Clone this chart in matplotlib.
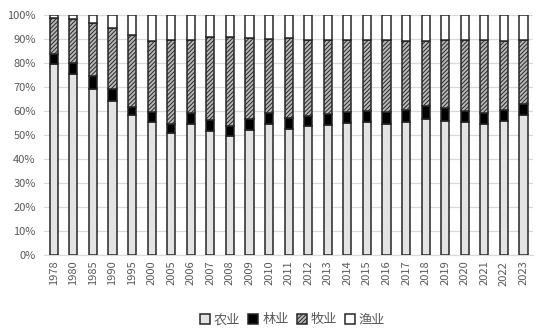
import matplotlib
matplotlib.use("Agg")
import matplotlib.pyplot as plt
import numpy as np

plt.rcParams['font.family'] = ['Noto Sans CJK SC', 'DejaVu Sans']
plt.rcParams['hatch.linewidth'] = 0.7

years = ['1978', '1980', '1985', '1990', '1995', '2000', '2005', '2006', '2007', '2008',
         '2009', '2010', '2011', '2012', '2013', '2014', '2015', '2016', '2017', '2018',
         '2019', '2020', '2021', '2022', '2023']
agri = [79.6, 75.4, 69.0, 64.3, 58.2, 55.3, 50.8, 54.6, 51.8, 49.7, 52.2, 54.7, 52.6,
        53.6, 54.3, 55.0, 55.3, 54.6, 55.4, 56.7, 56.0, 55.4, 54.4, 55.7, 58.2]
forest = [3.9, 4.6, 5.6, 4.9, 3.6, 4.3, 3.9, 4.4, 4.5, 4.2, 4.5, 4.3, 4.6, 4.4, 4.6,
          4.7, 4.7, 4.8, 5.2, 5.4, 5.3, 4.7, 4.8, 4.9, 4.8]
livestock = [15.0, 18.3, 21.9, 25.4, 30.0, 29.6, 35.0, 30.7, 34.4, 36.8, 33.7, 31.1, 33.2,
             31.7, 30.8, 30.0, 29.4, 30.0, 28.4, 26.9, 28.1, 29.3, 30.2, 28.4, 26.4]
fishery = [1.5, 1.7, 3.5, 5.4, 8.2, 10.8, 10.3, 10.3, 9.3, 9.3, 9.6, 9.9, 9.6, 10.3, 10.3,
           10.3, 10.6, 10.6, 11.0, 11.0, 10.6, 10.6, 10.6, 11.0, 10.6]
names = ['农业', '林业', '牧业', '渔业']

data = np.array([agri, forest, livestock, fishery], dtype=float)
data = data / data.sum(axis=0) * 100

fig = plt.figure(figsize=(5.37, 3.30), dpi=100)
ax = fig.add_axes([0.082, 0.227, 0.911, 0.728])

x = np.arange(len(years))
w = 0.42
ec = '#262626'
styles = [dict(color='#e3e3e3', hatch=None),
          dict(color='black', hatch=None),
          dict(color='#b8b8b8', hatch='////////'),
          dict(color='white', hatch=None)]
bottom = np.zeros(len(years))
for vals, nm, st in zip(data, names, styles):
    ax.bar(x, vals, w, bottom=bottom, facecolor=st['color'], edgecolor=ec,
           linewidth=1.1, hatch=st['hatch'], label=nm, zorder=3)
    bottom += vals

ax.set_ylim(0, 100)
ax.set_xlim(-0.5, len(years) - 0.5)
ax.set_yticks(np.arange(0, 101, 10))
ax.set_yticklabels([f'{v}%' for v in range(0, 101, 10)])
ax.set_xticks(x)
ax.set_xticklabels(years, rotation=90)
ax.tick_params(axis='both', length=0, labelsize=8, colors='#595959')
ax.tick_params(axis='y', pad=6)
ax.tick_params(axis='x', pad=4)
ax.grid(axis='y', color='#d9d9d9', linewidth=0.9, zorder=0)
for s in ['top', 'right', 'left']:
    ax.spines[s].set_visible(False)
ax.spines['bottom'].set_color('#d9d9d9')
ax.spines['bottom'].set_zorder(1)

leg = fig.legend(loc='lower center', bbox_to_anchor=(0.545, -0.025), ncol=4, frameon=False,
                 fontsize=9.5, handlelength=0.75, handleheight=0.75, handletextpad=0.3,
                 columnspacing=0.6)
for t in leg.get_texts():
    t.set_color('#595959')

fig.savefig('out.png', dpi=100)
